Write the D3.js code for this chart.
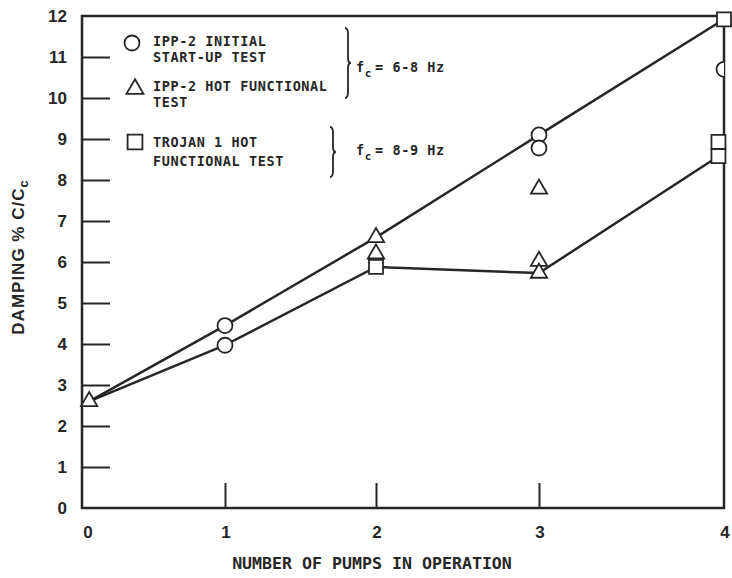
<!DOCTYPE html>
<html>
<head>
<meta charset="utf-8">
<script src="https://cdn.jsdelivr.net/npm/d3@7"></script>
<style>
  body { margin: 0; background: #fff; }
  svg { display: block; }
</style>
</head>
<body>
<div id="chart"></div>
<script>
// tick values
const xTicks = [0, 1, 2, 3, 4];
const yTicks = [0, 1, 2, 3, 4, 5, 6, 7, 8, 9, 10, 11, 12];

// IPP-2 initial start-up test (circles)
const circleX = [1, 1, 3, 3, 4];
const circleY = [4.45, 3.97, 9.1, 8.78, 10.7];

// IPP-2 hot functional test (triangles)
const triangleX = [0.05, 2, 2, 3, 3, 3];
const triangleY = [2.6, 6.6, 6.2, 7.78, 6.02, 5.73];

// Trojan 1 hot functional test (squares)
const squareX = [2, 4, 3.97, 3.97];
const squareY = [5.88, 11.92, 8.93, 8.58];

// envelope lines
const upperX = [0.05, 1, 2, 3, 4];
const upperY = [2.6, 4.45, 6.6, 9.1, 11.92];
const lowerX = [0.05, 1, 2, 3, 3.97];
const lowerY = [2.6, 3.97, 5.88, 5.73, 8.58];

const width = 732, height = 578;
const ink = '#262626';
const letterFont = '"DejaVu Sans Mono", monospace';
const numFont = '"Liberation Sans", Arial, sans-serif';

const svg = d3.select('#chart')
  .append('svg')
  .attr('width', width)
  .attr('height', height);

// the x axis of the original is not evenly spaced
const xScale = d3.scaleLinear()
  .domain([0, 1, 2, 3, 4])
  .range([82, 225, 376, 539, 724]);

const yScale = d3.scaleLinear()
  .domain([0, 12])
  .range([508, 16]);

svg.append('defs').append('clipPath')
  .attr('id', 'plotClip')
  .append('rect')
  .attr('x', xScale(0))
  .attr('y', yScale(12))
  .attr('width', xScale(4) - xScale(0))
  .attr('height', yScale(0) - yScale(12));

// frame
svg.append('rect')
  .attr('x', xScale(0))
  .attr('y', yScale(12))
  .attr('width', xScale(4) - xScale(0))
  .attr('height', yScale(0) - yScale(12))
  .attr('fill', 'none')
  .attr('stroke', ink)
  .attr('stroke-width', 2.5);

// y ticks (inside)
const yAxis = d3.axisRight(yScale)
  .tickValues(yTicks.filter(d => d > 0 && d < 12))
  .tickSize(28)
  .tickFormat('');
svg.append('g')
  .attr('transform', `translate(${xScale(0)},0)`)
  .call(yAxis)
  .call(g => g.select('.domain').remove())
  .call(g => g.selectAll('.tick line').attr('stroke', ink).attr('stroke-width', 2));

// x ticks (inside)
const xAxis = d3.axisTop(xScale)
  .tickValues(xTicks.filter(d => d > 0 && d < 4))
  .tickSize(25)
  .tickFormat('');
svg.append('g')
  .attr('transform', `translate(0,${yScale(0)})`)
  .call(xAxis)
  .call(g => g.select('.domain').remove())
  .call(g => g.selectAll('.tick line').attr('stroke', ink).attr('stroke-width', 2));

// tick labels
svg.append('g')
  .selectAll('text')
  .data(yTicks)
  .join('text')
  .attr('x', 67)
  .attr('y', d => yScale(d))
  .attr('dy', '0.36em')
  .attr('text-anchor', 'end')
  .attr('font-family', numFont)
  .attr('font-weight', 'bold')
  .attr('font-size', 17)
  .attr('fill', ink)
  .text(d => d);

svg.append('g')
  .selectAll('text')
  .data(xTicks)
  .join('text')
  .attr('x', d => xScale(d) + (d === 0 ? 6 : 1))
  .attr('y', 538)
  .attr('text-anchor', 'middle')
  .attr('font-family', numFont)
  .attr('font-weight', 'bold')
  .attr('font-size', 17)
  .attr('fill', ink)
  .text(d => d);

// axis titles
svg.append('text')
  .attr('x', 372)
  .attr('y', 569)
  .attr('text-anchor', 'middle')
  .attr('font-family', letterFont)
  .attr('font-weight', 'bold')
  .attr('font-size', 16.6)
  .attr('fill', ink)
  .text('NUMBER OF PUMPS IN OPERATION');

const yTitle = svg.append('text')
  .attr('transform', 'translate(24,257) rotate(-90)')
  .attr('text-anchor', 'middle')
  .attr('font-family', numFont)
  .attr('font-weight', 'bold')
  .attr('font-size', 17)
  .attr('letter-spacing', 1)
  .attr('fill', ink);
yTitle.append('tspan').text('DAMPING % C/C');
yTitle.append('tspan').attr('font-size', 13).attr('dy', 4).text('c');

// envelope lines
const line = d3.line()
  .x(d => xScale(d[0]))
  .y(d => yScale(d[1]));

[[upperX, upperY], [lowerX, lowerY]].forEach(([xs, ys]) => {
  svg.append('path')
    .attr('d', line(xs.map((x, i) => [x, ys[i]])))
    .attr('fill', 'none')
    .attr('stroke', ink)
    .attr('stroke-width', 2.5);
});

// markers
const circleG = svg.append('g').attr('clip-path', 'url(#plotClip)');
circleG.selectAll('circle')
  .data(circleX.map((x, i) => [x, circleY[i]]))
  .join('circle')
  .attr('cx', d => xScale(d[0]))
  .attr('cy', d => yScale(d[1]))
  .attr('r', 7.5)
  .attr('fill', '#fff')
  .attr('stroke', ink)
  .attr('stroke-width', 1.8);

const triSymbol = d3.symbol().type(d3.symbolTriangle).size(115);
svg.append('g')
  .selectAll('path')
  .data(triangleX.map((x, i) => [x, triangleY[i]]))
  .join('path')
  .attr('transform', d => `translate(${xScale(d[0])},${yScale(d[1])})`)
  .attr('d', triSymbol)
  .attr('fill', '#fff')
  .attr('stroke', ink)
  .attr('stroke-width', 1.8);

const sqSymbol = d3.symbol().type(d3.symbolSquare).size(196);
svg.append('g')
  .selectAll('path')
  .data(squareX.map((x, i) => [x, squareY[i]]))
  .join('path')
  .attr('transform', d => `translate(${xScale(d[0])},${yScale(d[1])})`)
  .attr('d', sqSymbol)
  .attr('fill', '#fff')
  .attr('stroke', ink)
  .attr('stroke-width', 1.8);

// legend
const legend = svg.append('g');
legend.append('circle')
  .attr('cx', 132).attr('cy', 43).attr('r', 7.5)
  .attr('fill', 'none').attr('stroke', ink).attr('stroke-width', 1.8);
legend.append('path')
  .attr('transform', 'translate(135,89)')
  .attr('d', d3.symbol().type(d3.symbolTriangle).size(125)())
  .attr('fill', 'none').attr('stroke', ink).attr('stroke-width', 1.8);
legend.append('path')
  .attr('transform', 'translate(135,142)')
  .attr('d', d3.symbol().type(d3.symbolSquare).size(220)())
  .attr('fill', 'none').attr('stroke', ink).attr('stroke-width', 1.8);

const legendLines = [
  ['IPP-2 INITIAL', 46],
  ['START-UP TEST', 62],
  ['IPP-2 HOT FUNCTIONAL', 91],
  ['TEST', 107],
  ['TROJAN 1 HOT', 147],
  ['FUNCTIONAL TEST', 166]
];
legend.selectAll('text.lbl')
  .data(legendLines)
  .join('text')
  .attr('class', 'lbl')
  .attr('x', 153)
  .attr('y', d => d[1])
  .attr('font-family', letterFont)
  .attr('font-weight', 'bold')
  .attr('font-size', 13.5)
  .attr('letter-spacing', 0.6)
  .attr('fill', ink)
  .text(d => d[0]);

// braces
function brace(x, y1, y2, w) {
  const ym = (y1 + y2) / 2, h = w / 2;
  return `M${x},${y1} Q${x + h},${y1} ${x + h},${y1 + 6} L${x + h},${ym - 5} ` +
    `Q${x + h},${ym} ${x + w},${ym} Q${x + h},${ym} ${x + h},${ym + 5} ` +
    `L${x + h},${y2 - 6} Q${x + h},${y2} ${x},${y2}`;
}
legend.append('path').attr('d', brace(345, 28, 98, 6))
  .attr('fill', 'none').attr('stroke', ink).attr('stroke-width', 1.8);
legend.append('path').attr('d', brace(330, 127, 177, 6))
  .attr('fill', 'none').attr('stroke', ink).attr('stroke-width', 1.8);

[['6-8', 72], ['8-9', 155]].forEach(([range, y]) => {
  const t = legend.append('text')
    .attr('x', 356)
    .attr('y', y)
    .attr('font-family', letterFont)
    .attr('font-weight', 'bold')
    .attr('font-size', 13.5)
    .attr('letter-spacing', 0.6)
    .attr('fill', ink);
  t.append('tspan').text('f');
  t.append('tspan').attr('font-size', 11).attr('dy', 5).text('c');
  t.append('tspan').attr('dy', -5).attr('dx', 3).text(`= ${range}  Hz`);
});
</script>
</body>
</html>
